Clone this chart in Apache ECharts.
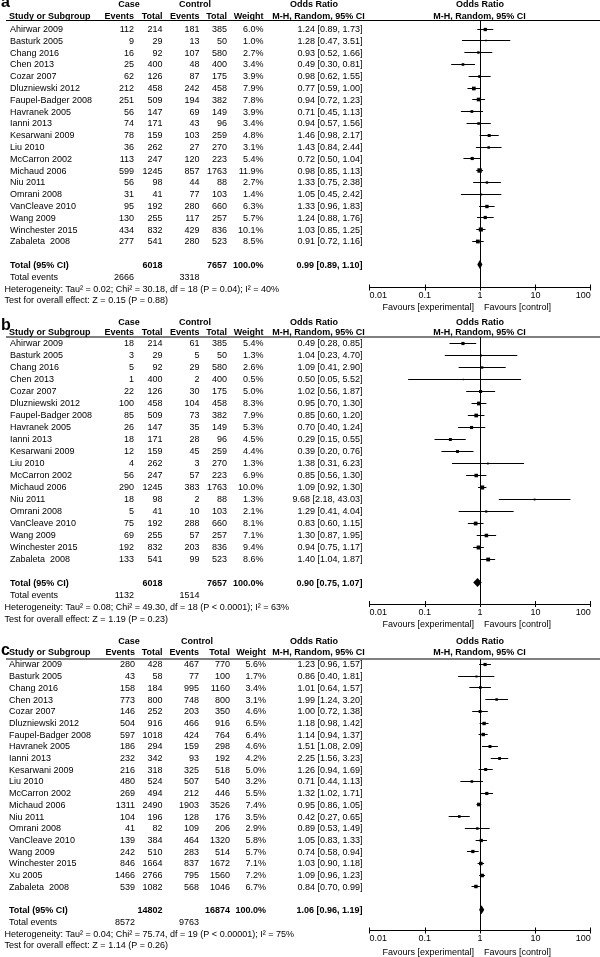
<!DOCTYPE html>
<html><head><meta charset="utf-8">
<script src="https://cdn.jsdelivr.net/npm/echarts@6/dist/echarts.min.js"></script>
<style>html,body{margin:0;padding:0;background:#fff}#c{width:600px;height:957px}</style>
</head><body><div id="c"></div>
<script>
// ---------------- DATA ----------------
const tickLabels = ['0.01', '0.1', '1', '10', '100'];

// Panel a
const studiesA = ['Ahirwar 2009','Basturk 2005','Chang 2016','Chen 2013','Cozar 2007','Dluzniewski 2012','Faupel-Badger 2008','Havranek 2005','Ianni 2013','Kesarwani 2009','Liu 2010','McCarron 2002','Michaud 2006','Niu 2011','Omrani 2008','VanCleave 2010','Wang 2009','Winchester 2015','Zabaleta  2008'];
const caseEventsA = [112,9,16,25,62,212,251,56,74,78,36,113,599,56,31,95,130,434,277];
const caseTotalA = [214,29,92,400,126,458,509,147,171,159,262,247,1245,98,41,192,255,832,541];
const ctrlEventsA = [181,13,107,48,87,242,194,69,43,103,27,120,857,44,77,280,117,429,280];
const ctrlTotalA = [385,50,580,400,175,458,382,149,96,259,270,223,1763,88,103,660,257,836,523];
const weightA = [6.0,1.0,2.7,3.4,3.9,7.9,7.8,3.9,3.4,4.8,3.1,5.4,11.9,2.7,1.4,6.3,5.7,10.1,8.5];
const orA = [1.24,1.28,0.93,0.49,0.98,0.77,0.94,0.71,0.94,1.46,1.43,0.72,0.98,1.33,1.05,1.33,1.24,1.03,0.91];
const loA = [0.89,0.47,0.52,0.30,0.62,0.59,0.72,0.45,0.57,0.98,0.84,0.50,0.85,0.75,0.45,0.96,0.88,0.85,0.72];
const hiA = [1.73,3.51,1.66,0.81,1.55,1.00,1.23,1.13,1.56,2.17,2.44,1.04,1.13,2.38,2.42,1.83,1.76,1.25,1.16];
const totalsA = [6018, 7657];
const totalEventsA = [2666, 3318];
const pooledA = [0.99, 0.89, 1.10];
const hetA = 'Heterogeneity: Tau² = 0.02; Chi² = 30.18, df = 18 (P = 0.04); I² = 40%';
const testA = 'Test for overall effect: Z = 0.15 (P = 0.88)';

// Panel b
const studiesB = studiesA.slice();
const caseEventsB = [18,3,5,1,22,100,85,26,18,12,4,56,290,18,5,75,69,192,133];
const caseTotalB = [214,29,92,400,126,458,509,147,171,159,262,247,1245,98,41,192,255,832,541];
const ctrlEventsB = [61,5,29,2,30,104,73,35,28,45,3,57,383,2,10,288,57,203,99];
const ctrlTotalB = [385,50,580,400,175,458,382,149,96,259,270,223,1763,88,103,660,257,836,523];
const weightB = [5.4,1.3,2.6,0.5,5.0,8.3,7.9,5.3,4.5,4.4,1.3,6.9,10.0,1.3,2.1,8.1,7.1,9.4,8.6];
const orB = [0.49,1.04,1.09,0.50,1.02,0.95,0.85,0.70,0.29,0.39,1.38,0.85,1.09,9.68,1.29,0.83,1.30,0.94,1.40];
const loB = [0.28,0.23,0.41,0.05,0.56,0.70,0.60,0.40,0.15,0.20,0.31,0.56,0.92,2.18,0.41,0.60,0.87,0.75,1.04];
const hiB = [0.85,4.70,2.90,5.52,1.87,1.30,1.20,1.24,0.55,0.76,6.23,1.30,1.30,43.03,4.04,1.15,1.95,1.17,1.87];
const totalsB = [6018, 7657];
const totalEventsB = [1132, 1514];
const pooledB = [0.90, 0.75, 1.07];
const hetB = 'Heterogeneity: Tau² = 0.08; Chi² = 49.30, df = 18 (P < 0.0001); I² = 63%';
const testB = 'Test for overall effect: Z = 1.19 (P = 0.23)';

// Panel c
const studiesC = ['Ahirwar 2009','Basturk 2005','Chang 2016','Chen 2013','Cozar 2007','Dluzniewski 2012','Faupel-Badger 2008','Havranek 2005','Ianni 2013','Kesarwani 2009','Liu 2010','McCarron 2002','Michaud 2006','Niu 2011','Omrani 2008','VanCleave 2010','Wang 2009','Winchester 2015','Xu 2005','Zabaleta  2008'];
const caseEventsC = [280,43,158,773,146,504,597,186,232,216,480,269,1311,104,41,139,242,846,1466,539];
const caseTotalC = [428,58,184,800,252,916,1018,294,342,318,524,494,2490,196,82,384,510,1664,2766,1082];
const ctrlEventsC = [467,77,995,748,203,466,424,159,93,325,507,212,1903,128,109,464,283,837,795,568];
const ctrlTotalC = [770,100,1160,800,350,916,764,298,192,518,540,446,3526,176,206,1320,514,1672,1560,1046];
const weightC = [5.6,1.7,3.4,3.1,4.6,6.5,6.4,4.6,4.2,5.0,3.2,5.5,7.4,3.5,2.9,5.8,5.7,7.1,7.2,6.7];
const orC = [1.23,0.86,1.01,1.99,1.00,1.18,1.14,1.51,2.25,1.26,0.71,1.32,0.95,0.42,0.89,1.05,0.74,1.03,1.09,0.84];
const loC = [0.96,0.40,0.64,1.24,0.72,0.98,0.94,1.08,1.56,0.94,0.44,1.02,0.86,0.27,0.53,0.83,0.58,0.90,0.96,0.70];
const hiC = [1.57,1.81,1.57,3.20,1.38,1.42,1.37,2.09,3.23,1.69,1.13,1.71,1.05,0.65,1.49,1.33,0.94,1.18,1.23,0.99];
const totalsC = [14802, 16874];
const totalEventsC = [8572, 9763];
const pooledC = [1.06, 0.96, 1.19];
const hetC = 'Heterogeneity: Tau² = 0.04; Chi² = 75.74, df = 19 (P < 0.00001); I² = 75%';
const testC = 'Test for overall effect: Z = 1.14 (P = 0.26)';

// ---------------- LAYOUT ----------------
const FF = '"Liberation Sans", Arial, Helvetica, sans-serif';
const AX_LEFT = 369.5, AX_RIGHT = 590.7;
const layouts = [
  {letter:'a', letterY:3, h1:5, h2:16.5, ul:20.5, row0:29.5, pitch:11.8, axisY:287.5, favY:307.5, nameX:10, caseX:129, ctrlX:195, cols:[134,162.5,199.5,227,263.5]},
  {letter:'b', letterY:325.5, h1:322.5, h2:333, ul:337, row0:343.5, pitch:12.0, axisY:604, favY:625, nameX:10, caseX:129, ctrlX:195, cols:[134,162.5,199.5,227,263.5]},
  {letter:'c', letterY:651, h1:641.5, h2:653, ul:659, row0:665, pitch:11.7, axisY:930.5, favY:953, nameX:9, caseX:129, ctrlX:197, cols:[135,162.5,199,230,266]}
];
const panels = [
  {studies:studiesA, ce:caseEventsA, ct:caseTotalA, ke:ctrlEventsA, kt:ctrlTotalA, w:weightA, or:orA, lo:loA, hi:hiA, tot:totalsA, ev:totalEventsA, pooled:pooledA, het:hetA, test:testA},
  {studies:studiesB, ce:caseEventsB, ct:caseTotalB, ke:ctrlEventsB, kt:ctrlTotalB, w:weightB, or:orB, lo:loB, hi:hiB, tot:totalsB, ev:totalEventsB, pooled:pooledB, het:hetB, test:testB},
  {studies:studiesC, ce:caseEventsC, ct:caseTotalC, ke:ctrlEventsC, kt:ctrlTotalC, w:weightC, or:orC, lo:loC, hi:hiC, tot:totalsC, ev:totalEventsC, pooled:pooledC, het:hetC, test:testC}
];

function T(x, y, s, align, bold, size) {
  return {type:'text', x:x, y:y, silent:true, style:{text:String(s), font:(bold?'bold ':'')+(size||9)+'px '+FF, fill:'#000',
    align:align||'left', verticalAlign:'middle', textAlign:align||'left', textVerticalAlign:'middle'}};
}
function ciText(o, l, h) { return o.toFixed(2) + ' [' + l.toFixed(2) + ', ' + h.toFixed(2) + ']'; }

const grids = [], xAxes = [], yAxes = [], series = [], graphics = [];

panels.forEach(function (p, k) {
  const L = layouts[k];
  const n = p.studies.length;
  const totalIdx = n + 1;
  grids.push({left:AX_LEFT, width:AX_RIGHT-AX_LEFT, top:L.ul, height:L.axisY-L.ul});
  const common = {gridIndex:k, type:'log', logBase:10, min:0.01, max:100, position:'bottom', splitLine:{show:false}, minorTick:{show:false}};
  xAxes.push(Object.assign({}, common, {
    axisLine:{show:true, onZero:false, lineStyle:{color:'#000', width:1}},
    axisTick:{show:true, length:3, lineStyle:{color:'#000', width:1}},
    axisLabel:{show:true, fontSize:9, fontFamily:FF, color:'#000', margin:4, alignMinLabel:'left', alignMaxLabel:'right',
      formatter:function (v) { return tickLabels[Math.round(Math.log10(v)) + 2]; }}
  }));
  xAxes.push(Object.assign({}, common, {
    axisLine:{show:false, onZero:false}, axisTick:{show:true, inside:true, length:3, lineStyle:{color:'#000', width:1}}, axisLabel:{show:false}
  }));
  yAxes.push({gridIndex:k, type:'value', inverse:true, show:false,
    min:(L.ul - L.row0)/L.pitch, max:(L.axisY - L.row0)/L.pitch});

  // study CI lines + squares
  series.push({
    type:'custom', xAxisIndex:2*k, yAxisIndex:k, silent:true, animation:false, clip:false,
    encode:{x:[1,2,3], y:0},
    data:p.studies.map(function (_, i) { return [i, p.or[i], p.lo[i], p.hi[i], p.w[i]]; }),
    renderItem:function (params, api) {
      const i = api.value(0);
      const y = Math.round(api.coord([1, i])[1] - 1) + 0.5;
      const xo = api.coord([api.value(1), i])[0];
      const xl = api.coord([api.value(2), i])[0];
      const xh = api.coord([api.value(3), i])[0];
      const s = 1.1 * Math.sqrt(api.value(4)) + 0.6;
      return {type:'group', children:[
        {type:'line', shape:{x1:xl, y1:y, x2:xh, y2:y}, style:{stroke:'#000', lineWidth:1}},
        {type:'rect', shape:{x:xo - s/2, y:y - s/2, width:s, height:s}, style:{fill:'#000'}}
      ]};
    },
    markLine:{silent:true, symbol:'none', animation:false, label:{show:false},
      lineStyle:{color:'#000', width:1, type:'solid'}, data:[{xAxis:1}]}
  });
  // pooled diamond
  series.push({
    type:'custom', xAxisIndex:2*k, yAxisIndex:k, silent:true, animation:false, clip:false,
    encode:{x:[1,2,3], y:0},
    data:[[totalIdx, p.pooled[0], p.pooled[1], p.pooled[2]]],
    renderItem:function (params, api) {
      const i = api.value(0);
      const y = api.coord([1, i])[1] - 1;
      const xo = api.coord([api.value(1), i])[0];
      const xl = api.coord([api.value(2), i])[0];
      const xh = api.coord([api.value(3), i])[0];
      return {type:'polygon', shape:{points:[[xl,y],[xo,y-4.5],[xh,y],[xo,y+4.5]]}, style:{fill:'#000'}};
    }
  });
  // table text rows
  const rows = p.studies.map(function (_, i) { return [i, 0, i]; });
  rows.push([totalIdx, 1, 0], [totalIdx+1, 2, 0], [totalIdx+2, 3, 0], [totalIdx+3, 4, 0]);
  series.push({
    type:'custom', xAxisIndex:2*k, yAxisIndex:k, silent:true, animation:false, clip:false,
    encode:{y:0}, data:rows,
    renderItem:function (params, api) {
      const r = api.value(0), kind = api.value(1), i = api.value(2);
      const y = api.coord([1, r])[1];
      const c = L.cols;
      let ch = [];
      if (kind === 0) {
        ch = [T(L.nameX, y, p.studies[i]), T(c[0], y, p.ce[i], 'right'), T(c[1], y, p.ct[i], 'right'),
          T(c[2], y, p.ke[i], 'right'), T(c[3], y, p.kt[i], 'right'), T(c[4], y, p.w[i].toFixed(1) + '%', 'right'),
          T(362.5, y, ciText(p.or[i], p.lo[i], p.hi[i]), 'right')];
      } else if (kind === 1) {
        ch = [T(L.nameX, y, 'Total (95% CI)', 'left', true), T(c[1], y, p.tot[0], 'right', true),
          T(c[3], y, p.tot[1], 'right', true), T(c[4], y, '100.0%', 'right', true),
          T(362.5, y, ciText(p.pooled[0], p.pooled[1], p.pooled[2]), 'right', true)];
      } else if (kind === 2) {
        ch = [T(L.nameX, y, 'Total events'), T(c[0], y, p.ev[0], 'right'), T(c[2], y, p.ev[1], 'right')];
      } else if (kind === 3) {
        ch = [T(4.5, y, p.het)];
      } else {
        ch = [T(4.5, y, p.test)];
      }
      return {type:'group', children:ch};
    }
  });

  // headers & decorations
  const c = L.cols;
  graphics.push(
    T(1, L.letterY, L.letter, 'left', true, 16),
    T(L.caseX, L.h1, 'Case', 'center', true),
    T(L.ctrlX, L.h1, 'Control', 'center', true),
    T(314, L.h1, 'Odds Ratio', 'center', true),
    T(480, L.h1, 'Odds Ratio', 'center', true),
    T(9, L.h2, 'Study or Subgroup', 'left', true),
    T(c[0], L.h2, 'Events', 'right', true),
    T(c[1], L.h2, 'Total', 'right', true),
    T(c[2], L.h2, 'Events', 'right', true),
    T(c[3], L.h2, 'Total', 'right', true),
    T(c[4], L.h2, 'Weight', 'right', true),
    T(318.5, L.h2, 'M-H, Random, 95% CI', 'center', true),
    T(479.5, L.h2, 'M-H, Random, 95% CI', 'center', true),
    {type:'line', silent:true, shape:{x1:6, y1:L.ul, x2:600, y2:L.ul}, style:{stroke:'#000', lineWidth:1}},
    T(474, L.favY, 'Favours [experimental]', 'right'),
    T(484, L.favY, 'Favours [control]', 'left')
  );
});

const chart = echarts.init(document.getElementById('c'), null, {renderer:'canvas'});
chart.setOption({
  animation:false,
  backgroundColor:'#fff',
  grid:grids, xAxis:xAxes, yAxis:yAxes, series:series, graphic:{elements:graphics}
});
</script></body></html>
